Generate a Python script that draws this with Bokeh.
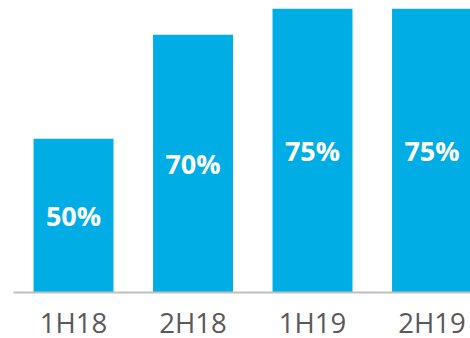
from bokeh.plotting import figure
from bokeh.models import Range1d, FixedTicker, ColumnDataSource
from bokeh.core.properties import value
from bokeh.embed import file_html
from bokeh.resources import INLINE

periods = ["1H18", "2H18", "1H19", "2H19"]
shares = [50, 70, 75, 75]
share_labels = ["50%", "70%", "75%", "75%"]

Y0 = 20.54
Y1 = 76.6
YB = 11.6
idx = list(range(len(periods)))
src = ColumnDataSource(dict(
    x=idx, top=shares, bottom=[Y0] * len(shares),
    mid=[(v + Y0) / 2 for v in shares], lab=share_labels,
))

p = figure(width=470, height=338, output_backend="svg", toolbar_location=None,
           x_range=Range1d(-0.611, 3.322), y_range=Range1d(YB, Y1),
           y_axis_location=None, min_border_left=0, min_border_right=0,
           min_border_top=0, min_border_bottom=0)
p.outline_line_color = None
p.grid.visible = False
p.background_fill_color = "white"
p.border_fill_color = "white"

p.vbar(x="x", top="top", bottom="bottom", width=0.669, source=src,
       fill_color="#00ADE5", line_color=None)
p.text(x="x", y="mid", text="lab", source=src, text_align="center",
       text_baseline="middle", text_color="white", text_font=value("Open Sans"),
       text_font_size="27px", text_font_style="bold")

ax = p.xaxis[0]
ax.fixed_location = Y0
ax.ticker = FixedTicker(ticks=idx)
ax.major_label_overrides = {i: s for i, s in zip(idx, periods)}
ax.bounds = (-0.5, 4)
ax.axis_line_color = "#BFBFBF"
ax.axis_line_width = 2
ax.major_tick_line_color = None
ax.minor_tick_line_color = None
ax.major_tick_out = 0
ax.major_tick_in = 0
ax.major_label_standoff = 12
ax.major_label_text_font = "Open Sans"
ax.major_label_text_font_size = "27.5px"
ax.major_label_text_color = "#595959"

open("out.html", "w").write(file_html(p, INLINE))
